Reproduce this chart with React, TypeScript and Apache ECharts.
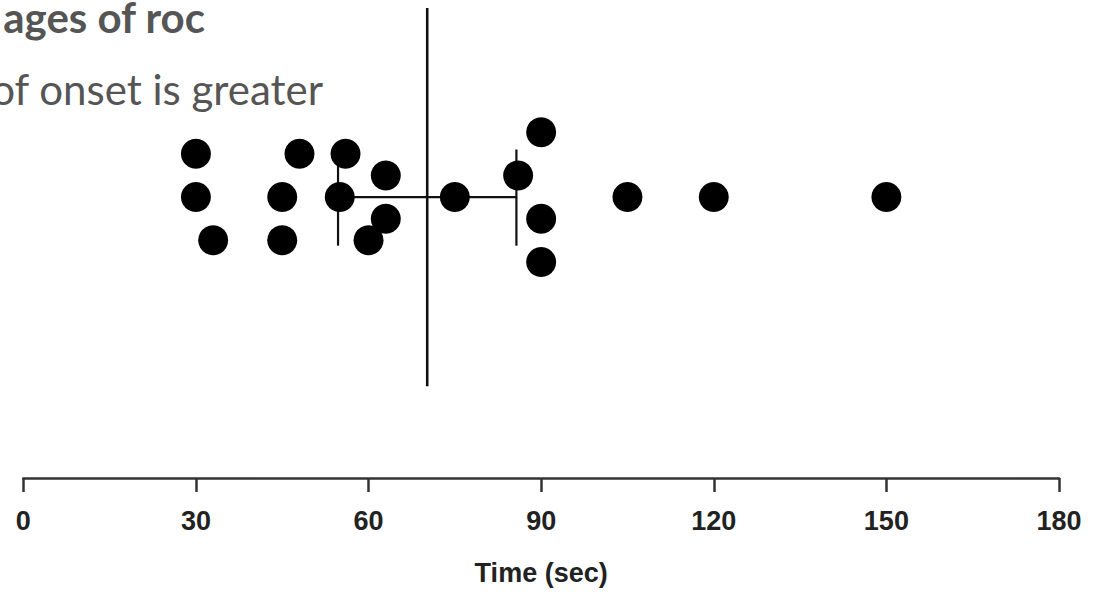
import React, { useEffect, useRef } from "react";
import * as echarts from "echarts";

// Time of onset (sec) for each observation, with its vertical jitter row
const onsetTimes = [30, 30, 33, 45, 45, 48, 56, 55, 60, 63, 63, 75, 86, 90, 90, 90, 105, 120, 150];
const jitterRows = [2, 0, -2, 0, -2, 2, 2, 0, -2, 1, -1, 0, 1, 3, -1, -3, 0, 0, 0];

// Summary statistics (mean and 95% CI)
const meanTime = 70.2;
const ciLow = 54.7;
const ciHigh = 85.7;

const xTicks = [0, 30, 60, 90, 120, 150, 180];
const axisTitle = "Time (sec)";
const headingLine1 = "ages of roc";
const headingLine2 = "of onset is greater";

export default function App() {
  const ref = useRef<HTMLDivElement>(null);
  useEffect(() => {
    if (!ref.current) return;
    const chart = echarts.init(ref.current, null, { renderer: "svg" });
    const points = onsetTimes.map((t, i) => [t, jitterRows[i]]);
    const lineStyle = { color: "#111", width: 2.2, opacity: 1 };
    const lineBase = {
      type: "line" as const,
      symbol: "none",
      silent: true,
      lineStyle,
    };
    const axisFont = "'Liberation Sans', Arial, sans-serif";
    chart.setOption({
      animation: false,
      backgroundColor: "#fff",
      grid: { left: 23.3, right: 36, top: 8, bottom: 116, containLabel: false },
      xAxis: {
        type: "value",
        min: xTicks[0],
        max: xTicks[xTicks.length - 1],
        interval: 30,
        splitLine: { show: false },
        axisLine: { show: true, onZero: false, lineStyle: { color: "#333", width: 2.5 } },
        axisTick: { show: true, length: 14, lineStyle: { color: "#333", width: 2.5 } },
        axisLabel: {
          margin: 29,
          color: "#222",
          fontWeight: "bold",
          fontSize: 27,
          fontFamily: axisFont,
        },
        name: axisTitle,
        nameLocation: "middle",
        nameGap: 81,
        nameTextStyle: {
          color: "#222",
          fontWeight: "bold",
          fontSize: 27,
          fontFamily: axisFont,
        },
      },
      yAxis: {
        type: "value",
        min: -13,
        max: 8.75,
        show: false,
      },
      series: [
        { ...lineBase, data: [[meanTime, -8.75], [meanTime, 8.75]], lineStyle: { color: "#111", width: 2.6, opacity: 1 } },
        { ...lineBase, data: [[ciLow, 0], [ciHigh, 0]] },
        { ...lineBase, data: [[ciLow, -2.25], [ciLow, 2.2]] },
        { ...lineBase, data: [[ciHigh, -2.25], [ciHigh, 2.2]] },
        {
          type: "scatter",
          data: points,
          symbol: "circle",
          symbolSize: 30,
          itemStyle: { color: "#000", opacity: 1 },
          z: 5,
        },
      ],
      graphic: [
        {
          type: "text",
          x: 205,
          y: 17,
          style: {
            text: headingLine1,
            align: "right",
            verticalAlign: "middle",
            fontFamily: "Lato, 'Open Sans', sans-serif",
            fontWeight: "bold",
            fontSize: 42,
            fill: "#555",
          },
        },
        {
          type: "text",
          x: 323,
          y: 89,
          style: {
            text: headingLine2,
            align: "right",
            verticalAlign: "middle",
            fontFamily: "Lato, 'Open Sans', sans-serif",
            fontSize: 42,
            fill: "#555",
          },
        },
      ],
    });
    return () => chart.dispose();
  }, []);
  return (
    <div
      ref={ref}
      style={{ position: "absolute", left: 0, top: 0, width: 1095, height: 594, background: "#fff" }}
    />
  );
}
